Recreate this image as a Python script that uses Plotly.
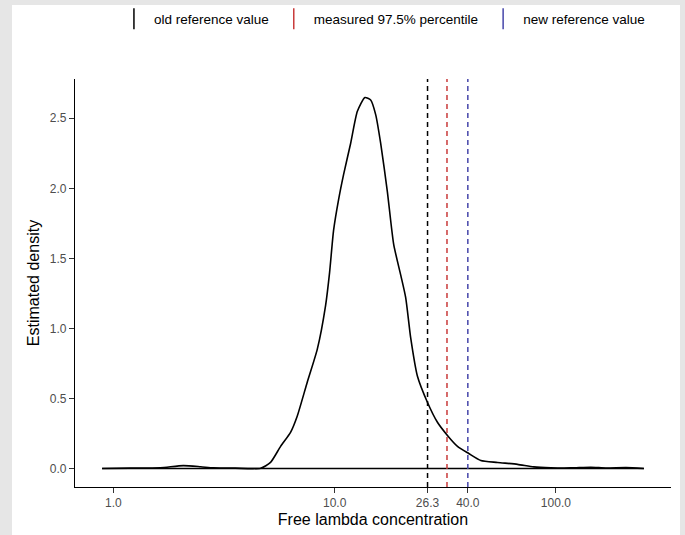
import numpy as np
import plotly.graph_objects as go

# ---- data ----
conc = [0.889, 1.19, 1.63, 2.07, 2.48, 2.83, 3.56, 4.63, 5.13, 5.70, 6.32, 6.78,
        7.52, 8.35, 9.10, 9.49, 9.89, 10.42, 10.98, 11.81, 12.67, 13.71, 14.55,
        15.34, 16.15, 17.31, 18.49, 19.9, 20.95, 22.08, 23.66, 26.26, 29.15, 32.35,
        35.92, 40.39, 45.77, 54.5, 67.1, 79.5, 94.9, 116.9, 143.9, 168.3, 207.5, 250.0]
density = [0.0, 0.002, 0.005, 0.02, 0.012, 0.004, 0.002, 0.002, 0.043, 0.158, 0.258, 0.375,
           0.616, 0.852, 1.163, 1.40, 1.70, 1.92, 2.10, 2.32, 2.55, 2.648, 2.63,
           2.524, 2.32, 1.977, 1.60, 1.38, 1.22, 0.93, 0.66, 0.473, 0.33, 0.236,
           0.158, 0.107, 0.057, 0.043, 0.029, 0.011, 0.005, 0.004, 0.009, 0.003, 0.006, 0.0]

ref_names = ["old reference value", "measured 97.5% percentile", "new reference value"]
ref_values = [26.3, 32.2, 40.0]
ref_colors = ["#000000", "#c93a3a", "#4646aa"]

x_tickvals = [1.0, 10.0, 26.3, 40.0, 100.0]
x_ticktext = ["1.0", "10.0", "26.3", "40.0", "100.0"]
y_tickvals = [0.0, 0.5, 1.0, 1.5, 2.0, 2.5]
y_ticktext = ["0.0", "0.5", "1.0", "1.5", "2.0", "2.5"]

# ggplot-like 5% expansion
lx = np.log10(conc)
xspan = lx.max() - lx.min()
xrange = [lx.min() - 0.05 * xspan, lx.max() + 0.05 * xspan]
yspan = max(density) - 0
yrange = [-0.05 * yspan, max(density) + 0.05 * yspan]

fig = go.Figure()

# density curve
fig.add_trace(go.Scatter(
    x=conc, y=density,
    mode="lines", line=dict(color="black", width=1.6, shape="spline", smoothing=0.6),
    showlegend=False, hoverinfo="skip"))
# baseline of the density outline (as geom_density draws it)
fig.add_trace(go.Scatter(
    x=[conc[0], conc[-1]], y=[density[0], density[-1]],
    mode="lines", line=dict(color="black", width=1.4),
    showlegend=False, hoverinfo="skip"))

# vertical reference lines
y_lo = yrange[0]
y_hi = yrange[1]
for name, v, c in zip(ref_names, ref_values, ref_colors):
    fig.add_trace(go.Scatter(
        x=[v, v], y=[y_lo, y_hi], mode="lines",
        line=dict(color=c, width=1.5, dash="5px,4px"),
        showlegend=False, hoverinfo="skip"))
    # legend entry with a vertical key
    fig.add_trace(go.Scatter(
        x=[None], y=[None], mode="markers", name=name,
        marker=dict(symbol="line-ns-open", size=15, color=c,
                    line=dict(color=c, width=1.5)),
        showlegend=True))

fig.update_layout(
    width=685, height=535,
    margin=dict(l=75, r=14, t=79, b=48, autoexpand=False),
    paper_bgcolor="#e6e6e6",
    plot_bgcolor="white",
    font=dict(family="Liberation Sans, Arial, sans-serif", color="black"),
    shapes=[dict(type="rect", xref="paper", yref="paper",
                 x0=-0.1057, x1=1.0151, y0=-0.25, y1=1.1814,
                 fillcolor="white", line=dict(width=0), layer="below")],
    legend=dict(orientation="h", x=0.515, xanchor="center", y=1.147, yanchor="middle",
                font=dict(size=13.5, color="black"), bgcolor="rgba(0,0,0,0)",
                itemwidth=30, tracegroupgap=0),
)

fig.update_xaxes(
    type="log", range=xrange, automargin=False,
    tickmode="array", tickvals=x_tickvals, ticktext=x_ticktext,
    ticks="outside", ticklen=5, tickwidth=1, tickcolor="#333333",
    tickfont=dict(size=12, color="#4d4d4d"),
    showline=True, linecolor="black", linewidth=1.1,
    showgrid=False, zeroline=False,
    title=dict(text="Free lambda concentration", font=dict(size=16, color="black"), standoff=4),
)
fig.update_yaxes(
    range=yrange, automargin=False,
    tickmode="array", tickvals=y_tickvals, ticktext=y_ticktext,
    ticks="outside", ticklen=5, tickwidth=1, tickcolor="#333333",
    tickfont=dict(size=12, color="#4d4d4d"),
    showline=True, linecolor="black", linewidth=1.1,
    showgrid=False, zeroline=False,
    title=dict(text="Estimated density", font=dict(size=16, color="black"), standoff=6),
)

fig.write_html("out.html", config={"displayModeBar": False},
               post_script="document.body.style.margin='0';")
